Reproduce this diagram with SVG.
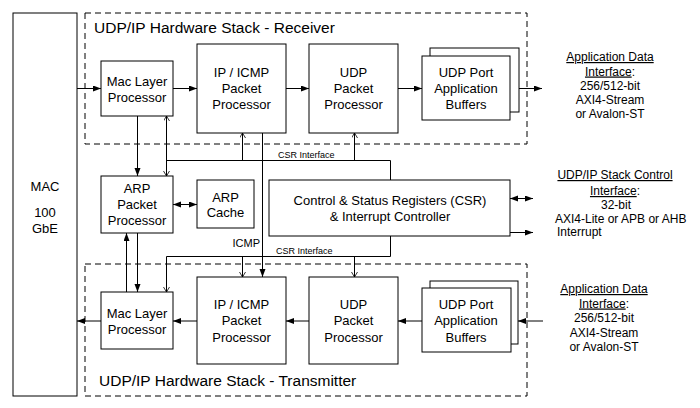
<svg xmlns="http://www.w3.org/2000/svg" width="700" height="408" viewBox="0 0 700 408">
<style>
  .box{fill:#fff;stroke:#000;stroke-width:1}
  .dash{fill:none;stroke:#000;stroke-width:1;stroke-dasharray:6,4}
  .ln{fill:none;stroke:#000;stroke-width:1}
  .fa{marker-end:url(#fill)}
  .fb{marker-start:url(#fill);marker-end:url(#fill)}
  .oa{marker-end:url(#open)}
  .ob{marker-start:url(#open);marker-end:url(#open)}
  text{font-family:"Liberation Sans",Arial,sans-serif;fill:#000}
  .t13{font-size:13px;text-anchor:middle}
  .t12{font-size:12px;text-anchor:middle}
  .title{font-size:15.5px}
  .small{font-size:9px}
  .u{text-decoration:underline}
</style>
<defs>
  <marker id="fill" markerUnits="userSpaceOnUse" markerWidth="9" markerHeight="7" refX="8" refY="3" orient="auto-start-reverse">
    <path d="M0,0 L8,3 L0,6 z" fill="#000"/>
  </marker>
  <marker id="open" markerUnits="userSpaceOnUse" markerWidth="7" markerHeight="7" refX="5" refY="3" orient="auto-start-reverse">
    <path d="M0,0 L5,3 L0,6" fill="none" stroke="#000" stroke-width="0.8"/>
  </marker>
</defs>

<g id="mac">
  <rect class="box" x="13" y="13" width="64" height="383"/>
  <text class="t13" x="45" y="191">MAC</text>
  <text class="t13" x="45" y="217">100</text>
  <text class="t13" x="45" y="233">GbE</text>
</g>

<g id="rx-stack">
  <rect class="dash" x="85" y="13" width="442" height="131"/>
  <text class="title" x="94" y="33">UDP/IP Hardware Stack - Receiver</text>
</g>

<g id="tx-stack">
  <rect class="dash" x="85" y="264" width="442" height="132"/>
  <text class="title" x="99" y="386">UDP/IP Hardware Stack - Transmitter</text>
</g>

<g id="rx-mac-layer">
  <rect class="box" x="101" y="61" width="72" height="55"/>
  <text class="t13" x="137" y="85.5">Mac Layer</text>
  <text class="t13" x="137" y="101.5">Processor</text>
</g>

<g id="rx-ip-icmp">
  <rect class="box" x="197" y="44" width="89" height="89"/>
  <text class="t13" x="241.5" y="76.5">IP / ICMP</text>
  <text class="t13" x="241.5" y="92.5">Packet</text>
  <text class="t13" x="241.5" y="108.5">Processor</text>
</g>

<g id="rx-udp">
  <rect class="box" x="309" y="44" width="89" height="89"/>
  <text class="t13" x="353.5" y="76.5">UDP</text>
  <text class="t13" x="353.5" y="92.5">Packet</text>
  <text class="t13" x="353.5" y="108.5">Processor</text>
</g>

<g id="rx-buffers">
  <rect class="box" x="430" y="48" width="89" height="64"/>
  <rect class="box" x="422" y="56" width="88" height="64"/>
  <text class="t13" x="466" y="76.5">UDP Port</text>
  <text class="t13" x="466" y="92.5">Application</text>
  <text class="t13" x="466" y="108.5">Buffers</text>
</g>

<g id="rx-app-if">
  <text class="t12" x="610" y="61"><tspan class="u">Application Data</tspan></text>
  <text class="t12" x="610" y="75.5"><tspan class="u">Interface</tspan>:</text>
  <text class="t12" x="610" y="89.5">256/512-bit</text>
  <text class="t12" x="610" y="103.5">AXI4-Stream</text>
  <text class="t12" x="610" y="118">or Avalon-ST</text>
</g>

<g id="arp-pp">
  <rect class="box" x="101" y="176" width="72" height="57"/>
  <text class="t13" x="137" y="192.5">ARP</text>
  <text class="t13" x="137" y="208.5">Packet</text>
  <text class="t13" x="137" y="224.5">Processor</text>
</g>

<g id="arp-cache">
  <rect class="box" x="197" y="180" width="57" height="48"/>
  <text class="t13" x="225.5" y="201.5">ARP</text>
  <text class="t13" x="225.5" y="216.5">Cache</text>
</g>

<g id="csr">
  <rect class="box" x="269" y="180" width="241" height="56"/>
  <text class="t13" x="390" y="204.5">Control &amp; Status Registers (CSR)</text>
  <text class="t13" x="390" y="220.5">&amp; Interrupt Controller</text>
</g>

<g id="ctrl-if">
  <text class="t12" x="615" y="179"><tspan class="u">UDP/IP Stack Control</tspan></text>
  <text class="t12" x="615" y="195"><tspan class="u">Interface</tspan>:</text>
  <text class="t12" x="616" y="209">32-bit</text>
  <text style="font-size:12px" x="555" y="223">AXI4-Lite or APB or AHB</text>
  <text style="font-size:12px" x="557" y="236">Interrupt</text>
</g>

<g id="tx-mac-layer">
  <rect class="box" x="101" y="292" width="72" height="57"/>
  <text class="t13" x="137" y="317.5">Mac Layer</text>
  <text class="t13" x="137" y="333.5">Processor</text>
</g>

<g id="tx-ip-icmp">
  <rect class="box" x="197" y="277" width="89" height="87"/>
  <text class="t13" x="241.5" y="308.5">IP / ICMP</text>
  <text class="t13" x="241.5" y="325">Packet</text>
  <text class="t13" x="241.5" y="341.5">Processor</text>
</g>

<g id="tx-udp">
  <rect class="box" x="309" y="277" width="89" height="87"/>
  <text class="t13" x="353.5" y="308.5">UDP</text>
  <text class="t13" x="353.5" y="325">Packet</text>
  <text class="t13" x="353.5" y="341.5">Processor</text>
</g>

<g id="tx-buffers">
  <rect class="box" x="430" y="281" width="88" height="63"/>
  <rect class="box" x="422" y="288" width="89" height="64"/>
  <text class="t13" x="466" y="308.5">UDP Port</text>
  <text class="t13" x="466" y="325">Application</text>
  <text class="t13" x="466" y="341.5">Buffers</text>
</g>

<g id="tx-app-if">
  <text class="t12" x="604" y="293"><tspan class="u">Application Data</tspan></text>
  <text class="t12" x="604" y="307.5"><tspan class="u">Interface</tspan>:</text>
  <text class="t12" x="604" y="322">256/512-bit</text>
  <text class="t12" x="604" y="336.5">AXI4-Stream</text>
  <text class="t12" x="604" y="351">or Avalon-ST</text>
</g>

<g id="connectors">
  <!-- receive data path -->
  <line class="ln fa" x1="77" y1="88.5" x2="101" y2="88.5"/>
  <line class="ln fa" x1="173" y1="88.5" x2="197" y2="88.5"/>
  <line class="ln fa" x1="286" y1="88.5" x2="309" y2="88.5"/>
  <line class="ln fa" x1="398" y1="88.5" x2="422" y2="88.5"/>
  <line class="ln fa" x1="519" y1="88.5" x2="542" y2="88.5"/>
  <!-- transmit data path -->
  <line class="ln fa" x1="101" y1="321" x2="77" y2="321"/>
  <line class="ln fa" x1="197" y1="321" x2="173" y2="321"/>
  <line class="ln fa" x1="309" y1="321" x2="286" y2="321"/>
  <line class="ln fa" x1="422" y1="321" x2="398" y2="321"/>
  <line class="ln fa" x1="543" y1="321" x2="518" y2="321"/>
  <!-- ARP -->
  <line class="ln fa" x1="137.5" y1="116" x2="137.5" y2="176"/>
  <line class="ln fa" x1="137.5" y1="233" x2="137.5" y2="292"/>
  <line class="ln fa" x1="126.5" y1="292" x2="126.5" y2="233"/>
  <line class="ln fb" x1="173" y1="204.5" x2="197" y2="204.5"/>
  <!-- ICMP -->
  <line class="ln fa" x1="262.5" y1="133" x2="262.5" y2="277"/>
  <text style="font-size:11px;text-anchor:end" x="260" y="247">ICMP</text>
  <!-- CSR interface upper -->
  <polyline class="ln" points="390.5,180 390.5,160.5 166.5,160.5"/>
  <line class="ln ob" x1="166.5" y1="116" x2="166.5" y2="176"/>
  <line class="ln oa" x1="242.5" y1="160.5" x2="242.5" y2="133"/>
  <line class="ln oa" x1="354.5" y1="160.5" x2="354.5" y2="133"/>
  <text class="small" x="278" y="158">CSR Interface</text>
  <!-- CSR interface lower -->
  <polyline class="ln oa" points="390.5,236 390.5,256.5 166.5,256.5 166.5,292"/>
  <line class="ln oa" x1="242.5" y1="256.5" x2="242.5" y2="277"/>
  <line class="ln oa" x1="354.5" y1="256.5" x2="354.5" y2="277"/>
  <text class="small" x="276" y="254">CSR Interface</text>
  <!-- control interface -->
  <line class="ln fb" x1="510" y1="198.5" x2="533" y2="198.5"/>
  <line class="ln fa" x1="510" y1="232.5" x2="533" y2="232.5"/>
</g>
</svg>
